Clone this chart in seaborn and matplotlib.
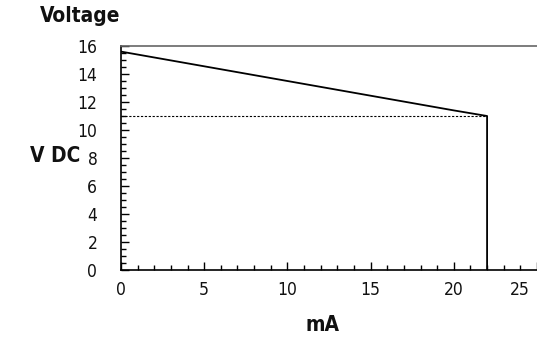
import matplotlib
matplotlib.use("Agg")
import matplotlib.pyplot as plt
import matplotlib.transforms as mtransforms
import seaborn as sns
import pandas as pd
from matplotlib.ticker import MultipleLocator

sns.set_theme(style="white")
FAM = ['DejaVu Sans', 'Liberation Sans']
plt.rcParams['font.family'] = FAM
plt.rcParams['font.stretch'] = 'condensed'

current_ma = [0, 20, 22, 22]
voltage_v = [15.6, 11.4, 11.0, 0]
ref_level = 11.0
x_ticks = [0, 5, 10, 15, 20, 25]
y_ticks = [0, 2, 4, 6, 8, 10, 12, 14, 16]

df = pd.DataFrame({"mA": current_ma, "V": voltage_v})

fig = plt.figure(figsize=(5.37, 3.38), dpi=100)
ax = fig.add_axes([0.2253, 0.2012, 0.7747, 0.6627])
sns.lineplot(data=df, x="mA", y="V", sort=False, estimator=None, color="black", lw=1.3, ax=ax)
ax.plot([0, current_ma[-1]], [ref_level, ref_level], color="black", lw=0.8, ls=(0, (2, 1.5)))

ax.set_xlim(0, 24.76)
ax.set_ylim(0, 16)
ax.set_xticks(x_ticks)
ax.set_yticks(y_ticks)
ax.xaxis.set_minor_locator(MultipleLocator(1))
ax.yaxis.set_minor_locator(MultipleLocator(0.5))
ax.tick_params(axis="both", which="major", direction="in", length=6, width=1, color="black",
               labelsize=12.5, labelcolor="#111111")
ax.tick_params(axis="both", which="minor", direction="in", length=3.5, width=1, color="black")
ax.tick_params(axis="x", which="both", bottom=True, top=False, pad=8)
ax.tick_params(axis="y", which="both", left=True, right=False, pad=17)

fig.canvas.draw()
last = ax.get_xticklabels()[-1]
last.set_transform(last.get_transform() + mtransforms.ScaledTranslation(-0.17, 0, fig.dpi_scale_trans))

for s in ["left", "bottom"]:
    ax.spines[s].set_color("black")
    ax.spines[s].set_linewidth(1.2)
ax.spines["top"].set_color("#666666")
ax.spines["top"].set_linewidth(1.2)
ax.spines["right"].set_visible(False)
ax.set_xlabel("")
ax.set_ylabel("")

fig.text(0.075, 0.953, "Voltage", fontsize=15, fontweight="bold", ha="left", va="center", color="#111111", family=FAM)
fig.text(0.056, 0.538, "V DC", fontsize=15, fontweight="bold", ha="left", va="center", color="#111111", family=FAM)
fig.text(0.60, 0.038, "mA", fontsize=15, fontweight="bold", ha="center", va="center", color="#111111", family=FAM)

fig.savefig("out.png", dpi=100)
